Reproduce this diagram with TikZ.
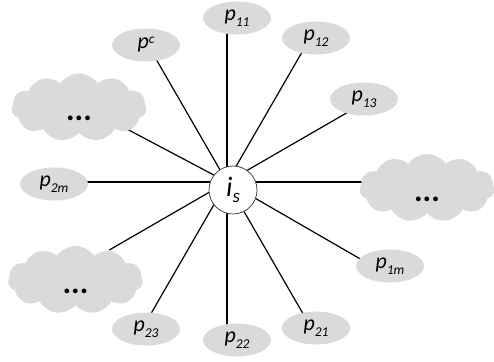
\documentclass[tikz,border=0pt]{standalone}
\usepackage{fontspec}
\setmainfont{Carlito}
\usetikzlibrary{shapes.geometric,shapes.symbols}
\definecolor{bubble}{RGB}{218,218,220}
\newcommand\plab[1]{{\fontsize{22}{22}\selectfont\itshape p}\raisebox{-6.5pt}{\fontsize{13.5}{14}\selectfont\itshape #1}}
\newcommand\pcsup{{\fontsize{22}{22}\selectfont\itshape p}\raisebox{5pt}{\fontsize{13.5}{14}\selectfont\itshape c}}
\begin{document}
\begin{tikzpicture}[x=1pt,y=-1pt,
  pnode/.style={ellipse, fill=bubble, minimum width=68pt, minimum height=33pt, inner sep=0pt},
  cloudnode/.style={cloud, cloud puffs=11, cloud puff arc=110, cloud ignores aspect, fill=bubble,
    minimum width=135pt, minimum height=68pt, inner sep=0pt, text height=26pt, text depth=0pt,
    font=\fontsize{32}{32}\selectfont\bfseries},
  spoke/.style={line width=1.2pt, black},
  hubnode/.style={circle, draw=black!80, line width=0.7pt, fill=white, minimum size=48pt, inner sep=0pt}]
\useasboundingbox (0,0) rectangle (494,361);
% spoke hub and spoke ends (ends sit just inside the outer shapes, which cover them)
\coordinate (hub) at (227,182);
\coordinate (e0) at (365,182);
\coordinate (e30) at (348.2,112);
\coordinate (e60) at (303,50.4);
\coordinate (e90) at (227,32);
\coordinate (e120) at (156.5,59.9);
\coordinate (e150) at (124,127.5);
\coordinate (e180) at (85,182);
\coordinate (e210) at (109.3,250);
\coordinate (e240) at (151,313.6);
\coordinate (e270) at (227,326);
\coordinate (e300) at (303.5,314.6);
\coordinate (e330) at (363,260.5);
% spokes
\foreach \e in {e0,e30,e60,e90,e120,e150,e180,e210,e240,e270,e300,e330}
  \draw[spoke] (hub) -- (\e);
% outer nodes
\node[pnode] (p11) at (237,18) {\plab{11}};
\node[pnode] (p12) at (316,38) {\plab{12}};
\node[pnode] (p13) at (364,99) {\plab{13}};
\node[pnode] (pc) at (146,45) {\pcsup};
\node[cloudnode] (ctl) at (79,107.5) {...};
\node[pnode] (p2m) at (54,184) {\plab{2m}};
\node[cloudnode] (cbl) at (75.5,280) {...};
\node[pnode] (p23) at (146,329) {\plab{23}};
\node[pnode] (p22) at (237,340) {\plab{22}};
\node[pnode] (p21) at (316,328) {\plab{21}};
\node[pnode] (p1m) at (390,266) {\plab{1m}};
\node[cloudnode] (cr) at (427,188) {...};
% centre node
\node[hubnode] (is) at (233,190) {{\fontsize{28}{28}\selectfont\itshape i}\raisebox{-6pt}{\fontsize{19}{19}\selectfont\itshape s}\hspace{12pt}};
\end{tikzpicture}
\end{document}
